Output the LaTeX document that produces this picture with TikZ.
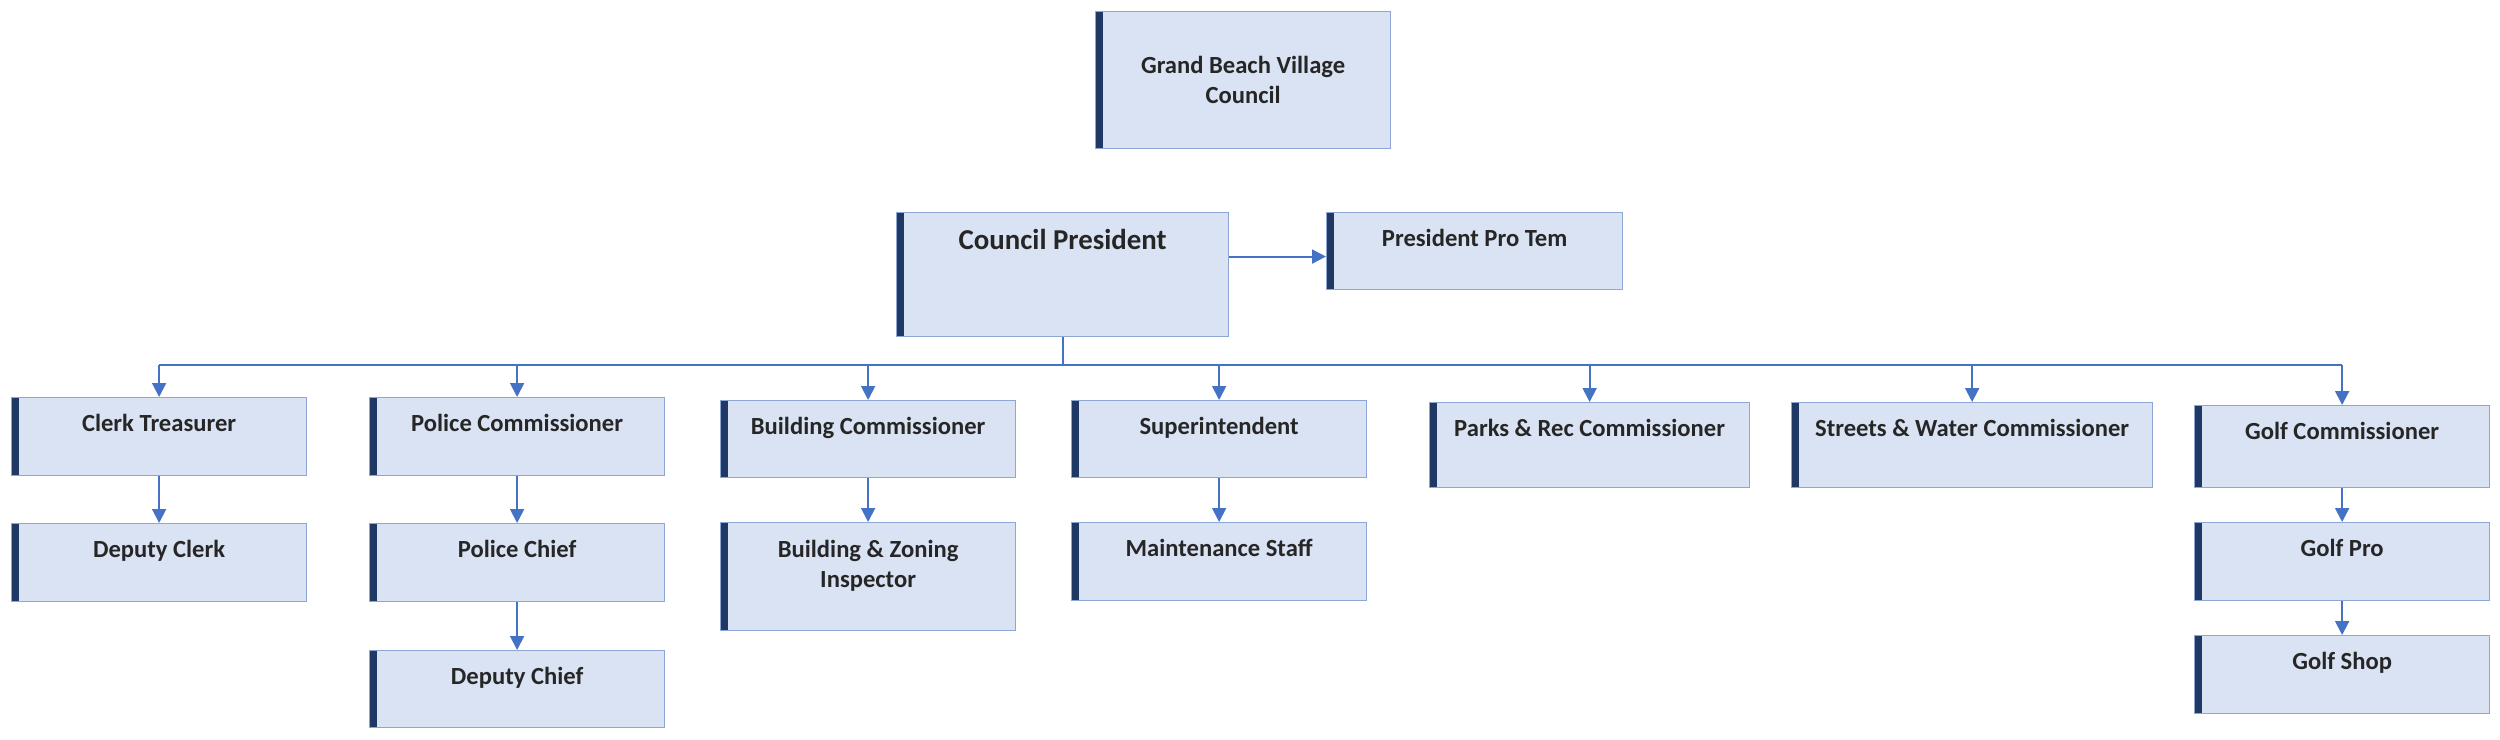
\documentclass[tikz,border=0pt]{standalone}
\usepackage{fontspec}
\setmainfont{Carlito}
\usetikzlibrary{arrows.meta}

\definecolor{boxfill}{HTML}{DAE3F3}
\definecolor{boxedge}{HTML}{8EA6D4}
\definecolor{boxbar}{HTML}{1F3864}
\definecolor{linkblue}{HTML}{4472C4}
\definecolor{ink}{HTML}{262626}

\begin{document}
\begin{tikzpicture}[x=0.01cm, y=-0.01cm, >={Triangle[length=0.14cm, width=0.14cm]},
    unit/.style={rectangle, draw=boxedge, line width=0.3pt, fill=boxfill, inner sep=0pt,
        anchor=north west, align=center, text=ink, font=\bfseries\fontsize{7}{8.4}\selectfont,
        path picture={\fill[boxbar] (path picture bounding box.north west)
            rectangle ([xshift=0.07cm]path picture bounding box.south west);}},
    topped/.style 2 args={minimum width=#1, text height=0.34cm, text depth=#2},
    link/.style={draw=linkblue, line width=0.55pt}]

    % 1. Page frame (pixel units, y grows downwards)
    \useasboundingbox (0,0) rectangle (2500,739);

    % 2. Council and president
    \node[unit, minimum width=2.95cm, minimum height=1.37cm] (council) at (1095,11) {Grand Beach Village\\Council};
    \node[unit, topped={3.32cm}{0.87cm}, text height=0.37cm,
        font=\bfseries\fontsize{8.2}{9.8}\selectfont] (pres) at (896,212) {Council President};
    \node[unit, topped={2.96cm}{0.43cm}] (protem) at (1326,212) {President Pro Tem};

    % 3. Commissioners (first row)
    \node[unit, topped={2.95cm}{0.44cm}] (clerk) at (11,397) {Clerk Treasurer};
    \node[unit, topped={2.95cm}{0.44cm}] (police) at (369,397) {Police Commissioner};
    \node[unit, topped={2.95cm}{0.43cm}] (building) at (720,400) {Building Commissioner};
    \node[unit, topped={2.95cm}{0.43cm}] (super) at (1071,400) {Superintendent};
    \node[unit, topped={3.20cm}{0.51cm}] (parks) at (1429,402) {Parks \& Rec Commissioner};
    \node[unit, topped={3.61cm}{0.51cm}] (streets) at (1791,402) {Streets \& Water Commissioner};
    \node[unit, topped={2.95cm}{0.48cm}] (golf) at (2194,405) {Golf Commissioner};

    % 4. Staff below them (two-line box: baseline is the last line)
    \node[unit, topped={2.95cm}{0.44cm}] (deputyclerk) at (11,523) {Deputy Clerk};
    \node[unit, topped={2.95cm}{0.44cm}] (chief) at (369,523) {Police Chief};
    \node[unit, topped={2.95cm}{0.434cm}, text height=0.646cm] (inspector) at (720,522) {Building \& Zoning\\Inspector};
    \node[unit, topped={2.95cm}{0.44cm}] (maint) at (1071,522) {Maintenance Staff};
    \node[unit, topped={2.95cm}{0.44cm}] (golfpro) at (2194,522) {Golf Pro};
    \node[unit, topped={2.95cm}{0.43cm}] (deputychief) at (369,650) {Deputy Chief};
    \node[unit, topped={2.95cm}{0.44cm}] (golfshop) at (2194,635) {Golf Shop};

    % 5. Connectors
    \coordinate (bus) at ([yshift=-0.28cm]pres.south);
    \draw[link] (pres.south) -- (bus);
    \draw[link] (bus -| clerk.north) -- (bus -| golf.north);
    \foreach \n in {clerk,police,building,super,parks,streets,golf}
        \draw[link, ->] (bus -| \n.north) -- (\n.north);
    \draw[link, ->] ([yshift=-0.055cm]protem.west -| pres.east) -- ([yshift=-0.055cm]protem.west);
    \foreach \a/\b in {clerk/deputyclerk, police/chief, chief/deputychief, building/inspector,
        super/maint, golf/golfpro, golfpro/golfshop}
        \draw[link, ->] (\a.south) -- (\b.north);

\end{tikzpicture}
\end{document}
